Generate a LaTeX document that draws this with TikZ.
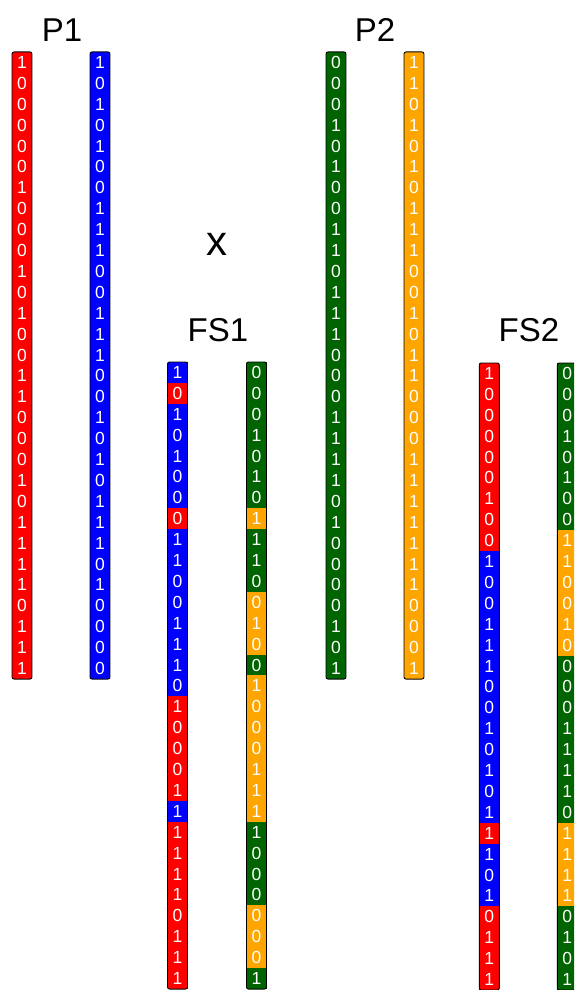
\documentclass[tikz,border=0pt]{standalone}
\usepackage{fontspec}
\setmainfont{Liberation Sans}
\usetikzlibrary{positioning}
\definecolor{pgreen}{RGB}{0,100,0}
\definecolor{porange}{RGB}{255,165,0}
\tikzstyle{bit}=[inner sep=0pt, outer sep=0pt, minimum width=20pt, minimum height=21pt, text=white, font=\fontsize{17.5}{17.5}\selectfont]
\tikzstyle{chrom}=[draw=black, line width=0.9pt, rounded corners=2pt]
\tikzstyle{lbl}=[inner sep=0pt, font=\fontsize{33}{33}\selectfont]

\begin{document}
\begin{tikzpicture}[x=1pt,y=-1pt]
\useasboundingbox (0,0) rectangle (574,990);
\clip (0,0) rectangle (574,990);

% parents
\node (lp1) [lbl] at (62,30) {P1};
\node (lp2) [lbl] at (375,30) {P2};

\foreach \b [count=\i] in {1,0,0,0,0,0,1,0,0,0,1,0,1,0,0,1,1,0,0,0,1,0,1,1,1,1,0,1,1,1}
  \node (p1r-\i) [bit,fill=red] at (22,{52+(\i-0.5)*20.9}) {\b};
\foreach \b [count=\i] in {1,0,1,0,1,0,0,1,1,1,0,0,1,1,1,0,0,1,0,1,0,1,1,1,0,1,0,0,0,0}
  \node (p1b-\i) [bit,fill=blue] at (100,{52+(\i-0.5)*20.9}) {\b};
\foreach \b [count=\i] in {0,0,0,1,0,1,0,0,1,1,0,1,1,1,0,0,0,1,1,1,1,0,1,0,0,0,0,1,0,1}
  \node (p2g-\i) [bit,fill=pgreen] at (336,{52+(\i-0.5)*20.9}) {\b};
\foreach \b [count=\i] in {1,1,0,1,0,1,0,1,1,1,0,0,1,0,1,1,0,0,0,1,1,1,1,1,1,1,0,0,0,1}
  \node (p2o-\i) [bit,fill=porange] at (414,{52+(\i-0.5)*20.9}) {\b};

\draw[chrom] (p1r-1.north west) rectangle (p1r-30.south east);
\draw[chrom] (p1b-1.north west) rectangle (p1b-30.south east);
\draw[chrom] (p2g-1.north west) rectangle (p2g-30.south east);
\draw[chrom] (p2o-1.north west) rectangle (p2o-30.south east);

\node (lx) [inner sep=0pt, font=\fontsize{42}{42}\selectfont] at (217,244) {x};

% offspring
\node (lfs1) [lbl] at (218,330) {FS1};
\node (lfs2) [lbl] at (529,330) {FS2};

\foreach \b/\c [count=\i] in {1/blue,0/red,1/blue,0/blue,1/blue,0/blue,0/blue,0/red,1/blue,1/blue,
  0/blue,0/blue,1/blue,1/blue,1/blue,0/blue,1/red,0/red,0/red,0/red,
  1/red,1/blue,1/red,1/red,1/red,1/red,0/red,1/red,1/red,1/red}
  \node (fs1a-\i) [bit,fill=\c] at (177.5,{362+(\i-0.5)*20.9}) {\b};
\foreach \b/\c [count=\i] in {0/pgreen,0/pgreen,0/pgreen,1/pgreen,0/pgreen,1/pgreen,0/pgreen,1/porange,1/pgreen,1/pgreen,
  0/pgreen,0/porange,1/porange,0/porange,0/pgreen,1/porange,0/porange,0/porange,0/porange,1/porange,
  1/porange,1/porange,1/pgreen,0/pgreen,0/pgreen,0/pgreen,0/porange,0/porange,0/porange,1/pgreen}
  \node (fs1b-\i) [bit,fill=\c] at (256.5,{362+(\i-0.5)*20.9}) {\b};
\foreach \b/\c [count=\i] in {1/red,0/red,0/red,0/red,0/red,0/red,1/red,0/red,0/red,1/blue,
  0/blue,0/blue,1/blue,1/blue,1/blue,0/blue,0/blue,1/blue,0/blue,1/blue,
  0/blue,1/blue,1/red,1/blue,0/blue,1/blue,0/red,1/red,1/red,1/red}
  \node (fs2a-\i) [bit,fill=\c] at (489.3,{363+(\i-0.5)*20.9}) {\b};
\foreach \b/\c [count=\i] in {0/pgreen,0/pgreen,0/pgreen,1/pgreen,0/pgreen,1/pgreen,0/pgreen,0/pgreen,1/porange,1/porange,
  0/porange,0/porange,1/porange,0/porange,0/pgreen,0/pgreen,0/pgreen,1/pgreen,1/pgreen,1/pgreen,
  1/pgreen,0/pgreen,1/porange,1/porange,1/porange,1/porange,0/pgreen,1/pgreen,0/pgreen,1/pgreen}
  \node (fs2b-\i) [bit,fill=\c] at (567.3,{363+(\i-0.5)*20.9}) {\b};

\draw[chrom] (fs1a-1.north west) rectangle (fs1a-30.south east);
\draw[chrom] (fs1b-1.north west) rectangle (fs1b-30.south east);
\draw[chrom] (fs2a-1.north west) rectangle (fs2a-30.south east);
\draw[chrom] (fs2b-1.north west) rectangle (fs2b-30.south east);

\end{tikzpicture}
\end{document}
